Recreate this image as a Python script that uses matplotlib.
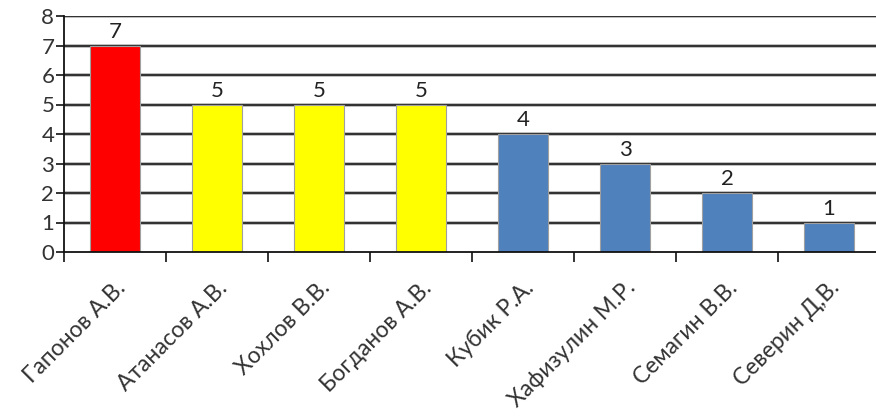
import matplotlib
matplotlib.use("Agg")
import matplotlib.pyplot as plt
import numpy as np

names = ["Гапонов А.В.", "Атанасов А.В.", "Хохлов В.В.", "Богданов А.В.",
         "Кубик Р.А.", "Хафизулин М.Р.", "Семагин В.В.", "Северин Д,В."]
scores = [7, 5, 5, 5, 4, 3, 2, 1]
colors = ["#FF0000", "#FFFF00", "#FFFF00", "#FFFF00",
          "#4F81BD", "#4F81BD", "#4F81BD", "#4F81BD"]

plt.rcParams['font.family'] = ['Lato', 'DejaVu Sans']

fig = plt.figure(figsize=(8.76, 4.17), dpi=100)
ax = fig.add_axes([64/876, 1-252/417, 816/876, 236/417])

x = np.arange(len(names))
ax.set_axisbelow(True)
for yv in range(1, 9):
    ax.axhline(yv, color="#b0b0b0", lw=2.6, zorder=0)
    ax.axhline(yv, color="#1a1a1a", lw=1.2, zorder=0.5)
ax.bar(x, scores, width=0.49, color=colors, edgecolor="#a0a0a0", linewidth=0.8, zorder=2)
for xi, v in zip(x, scores):
    ax.text(xi, v + 0.12, str(v), ha="center", va="bottom", fontsize=16, color="#222222")

ax.set_xlim(-0.5, len(names) - 0.5)
ax.set_ylim(0, 8)
ax.set_yticks(range(0, 9))
ax.tick_params(axis="y", length=6, width=1.2, labelsize=16, pad=1, colors="#111111", labelcolor="#333333")
ax.set_xticks(np.arange(len(names) + 1) - 0.5)
ax.set_xticklabels([])
ax.tick_params(axis="x", length=7, width=1.2, direction="out", colors="#111111")
ax.set_xticks(x, minor=True)
ax.set_xticklabels(names, minor=True, rotation=45, ha="right", rotation_mode="anchor",
                   fontsize=16.5, color="#333333")
ax.tick_params(axis="x", which="minor", length=0, pad=18)

for s in ["top", "right"]:
    ax.spines[s].set_visible(False)
ax.spines["left"].set_linewidth(1.3)
ax.spines["bottom"].set_linewidth(1.3)
ax.spines["left"].set_color("#111111")
ax.spines["bottom"].set_color("#111111")

fig.savefig("out.png", dpi=100)
